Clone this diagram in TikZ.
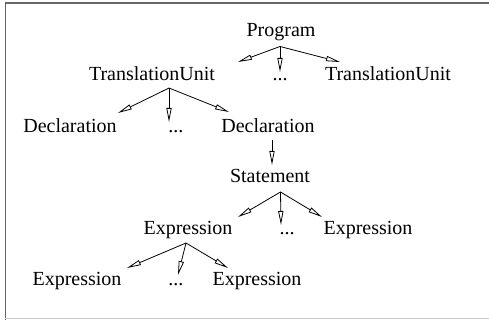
\documentclass[tikz,border=0pt]{standalone}
\usepackage{fontspec}
\setmainfont{Liberation Serif}
\usetikzlibrary{calc}
\usetikzlibrary{arrows.meta}

\begin{document}
\begin{tikzpicture}[x=0.5pt,y=-0.5pt,
    kata/.style={inner sep=0pt,anchor=base},
    panah/.style={-{Triangle[open,length=7pt,width=2.6pt]}}]
    \useasboundingbox (0,0) rectangle (489,320);
    % bingkai
    \draw[black!60,line width=0.8pt] (5.5,320) -- (5.5,3) -- (489,3);
    \draw[black!20] (5.5,318.5) -- (489,318.5);

    % simpul-simpul pohon
    \node[kata] (prog)     at (281,37)  {Program};
    \node[kata] (tuA)      at (152,81)  {TranslationUnit};
    \node[kata] (tuDots)   at (280,81)  {...};
    \node[kata] (tuB)      at (388,81)  {TranslationUnit};
    \node[kata] (declA)    at (70,133)  {Declaration};
    \node[kata] (declDots) at (176,133) {...};
    \node[kata] (declB)    at (268,133) {Declaration};
    \node[kata] (stmt)     at (270,183) {Statement};
    \node[kata] (exprA)    at (188,235) {Expression};
    \node[kata] (exprDots) at (287,235) {...};
    \node[kata] (exprB)    at (368,235) {Expression};
    \node[kata] (subA)     at (77,286)  {Expression};
    \node[kata] (subDots)  at (176,286) {...};
    \node[kata] (subB)     at (257,286) {Expression};

    % titik-titik cabang
    \coordinate (fProg) at ($(prog.base)+(-1,9.5)$);
    \coordinate (fTu)   at ($(tuA.base)+(17,7)$);
    \coordinate (fDecl) at ($(declB.base)+(4,7)$);
    \coordinate (fStmt) at ($(stmt.base)+(10.5,9)$);
    \coordinate (fExpr) at ($(exprA.base)+(-2,8)$);

    % pembuatan panah
    \draw[panah] (fProg) -- ($(tuA.base)+(86,-19)$);
    \draw[panah] (fProg) -- ($(tuDots.base)+(0,-9)$);
    \draw[panah] (fProg) -- ($(tuB.base)+(-48,-19)$);
    \draw[panah] (fTu) -- ($(declA.base)+(48,-20)$);
    \draw[panah] (fTu) -- ($(declDots.base)+(-7,-11)$);
    \draw[panah] (fTu) -- ($(declB.base)+(-39,-21)$);
    \draw[panah] (fDecl) -- ($(stmt.base)+(2,-18)$);
    \draw[panah] (fStmt) -- ($(exprA.base)+(50,-18)$);
    \draw[panah] (fStmt) -- ($(exprDots.base)+(-6,-10)$);
    \draw[panah] (fStmt) -- ($(exprB.base)+(-46,-18)$);
    \draw[panah] (fExpr) -- ($(subA.base)+(50,-18)$);
    \draw[panah] (fExpr) -- ($(subDots.base)+(2,-11)$);
    \draw[panah] (fExpr) -- ($(subB.base)+(-29,-18)$);
\end{tikzpicture}
\end{document}
